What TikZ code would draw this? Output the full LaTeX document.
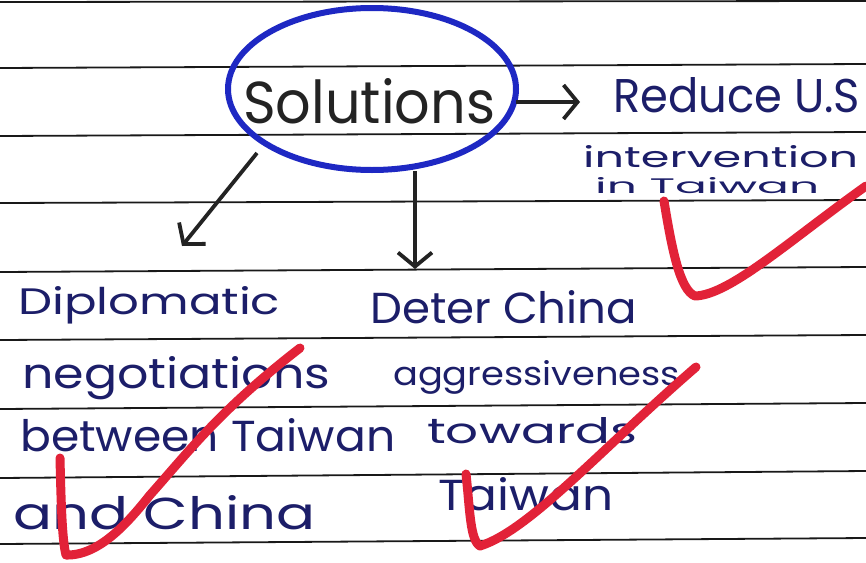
\documentclass[tikz,border=0pt]{standalone}
\usepackage{fontspec}
\setmainfont{Poppins}
\usetikzlibrary{arrows.meta}
\definecolor{ink}{RGB}{28,30,105}
\definecolor{pencil}{RGB}{35,35,35}
\definecolor{circ}{RGB}{30,40,195}
\definecolor{redmark}{RGB}{226,34,56}
\definecolor{rule}{RGB}{25,25,25}
\newcommand\hw[3]{\resizebox{#1pt}{#2pt}{#3}}
\tikzset{
  ruleline/.style={draw=rule, line width=1.8pt},
  hand/.style={anchor=base west, inner sep=0pt, text=ink, font=\fontsize{30}{36}\selectfont},
  arr/.style={draw=pencil, line width=3.8pt, -{Straight Barb[length=14pt,width=34pt,line width=3.8pt]}},
  check/.style={draw=redmark, line width=9pt, line cap=round, line join=round}
}
\begin{document}
\begin{tikzpicture}[x=1pt,y=-1pt]
\useasboundingbox (0,0) rectangle (866,562);
\fill[white] (0,0) rectangle (866,562);
% ruled lines
\foreach \yl/\yr in {2/1,68/64,136/132,203/200,272/267,340/335,409/403,478/471,544/538}
  \draw[ruleline] (0,\yl) -- (866,\yr);
% central ellipse
\node (sol) [anchor=base west, inner sep=0pt, text=pencil, font=\fontsize{40}{46}\selectfont] at (243,123) {\hw{252}{45}{Solutions}};
\draw[circ, line width=6pt] (372,89) ellipse [x radius=144, y radius=81];
\coordinate (eR) at (516,102);
\coordinate (eL) at (257,153);
\coordinate (eB) at (415,171);
% right text
\node (r1) [hand] at (613,112) {\hw{247}{35}{Reduce U.S}};
\node (r2) [hand] at (583,167) {\hw{275}{22}{intervention}};
\node (r3) [hand] at (595,193) {\hw{224}{16}{in Taiwan}};
% left text
\node (l1) [hand] at (18,314) {\hw{262}{28}{Diplomatic}};
\node (l2) [hand] at (22,388) {\hw{308}{32}{negotiations}};
\node (l3) [hand] at (20,451) {\hw{375}{33}{between Taiwan}};
\node (l4) [hand] at (13,529) {\hw{302}{34}{and China}};
% middle text
\node (m1) [hand] at (370,323) {\hw{267}{33}{Deter China}};
\node (m2) [hand] at (393,385) {\hw{287}{25}{aggressiveness}};
\node (m3) [hand] at (427,443) {\hw{210}{26}{towards}};
\node (m4) [hand] at (438,510) {\hw{175}{33}{Taiwan}};
% arrows
\coordinate (tR) at (580,102);
\coordinate (tL) at (182,246);
\coordinate (tB) at (415,269);
\draw[arr] (eR) -- (tR);
\draw[arr] (eL) -- (tL);
\draw[arr] (eB) -- (tB);
% red check marks
\draw[check] (664,201) .. controls (672,250) and (680,290) .. (695,296)
  .. controls (730,295) and (790,240) .. (866,186);
\draw[check] (60,458) .. controls (61,500) and (62,540) .. (66,555)
  .. controls (100,556) and (130,520) .. (150,495)
  .. controls (190,450) and (220,410) .. (300,348);
\draw[check] (466,474) .. controls (470,510) and (470,540) .. (480,546)
  .. controls (530,530) and (600,450) .. (696,367);
\end{tikzpicture}
\end{document}
